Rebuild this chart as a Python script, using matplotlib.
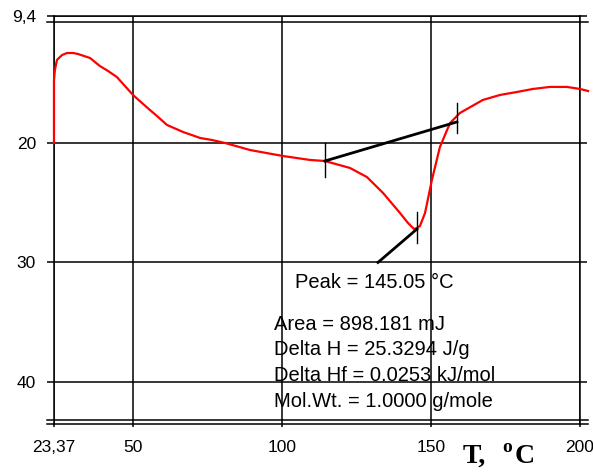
import matplotlib
matplotlib.use("Agg")
from matplotlib import pyplot as plt

# DSC curve
temp = [23.5, 23.5, 23.8, 24.5, 26.2, 27.9, 29.9, 31.5, 35.6, 38.9, 41.6, 44.6,
        47.3, 50.0, 53.0, 55.7, 58.4, 61.4, 66.8, 72.5, 76.5, 80.9, 89.3, 100.3,
        109.4, 114.4, 122.8, 128.5, 133.9, 139.6, 142.3, 144.3, 145.3, 146.3,
        148.0, 150.3, 153.0, 156.4, 159.7, 167.4, 173.2, 178.9, 184.2, 189.9,
        195.6, 200.0, 202.7]
heat = [20.0, 14.73, 13.9, 13.05, 12.64, 12.47, 12.47, 12.55, 12.89, 13.56, 13.97,
        14.48, 15.23, 15.98, 16.65, 17.24, 17.82, 18.49, 19.08, 19.58, 19.75, 20.0,
        20.59, 21.09, 21.42, 21.51, 22.09, 22.85, 24.18, 25.86, 26.7, 27.2, 27.11,
        26.95, 25.86, 23.10, 20.33, 18.33, 17.49, 16.40, 15.98, 15.73, 15.48, 15.31,
        15.31, 15.48, 15.65]

base_t = [114.4, 158.7]
base_h = [21.51, 18.24]
peak_t = [145.3, 132.2]
peak_h = [27.2, 30.0]
marks = [(114.4, 20.0, 22.85), (158.7, 16.65, 19.16), (145.3, 25.77, 28.37)]

xticks = [23.37, 50, 100, 150, 200]
xlabels = ["23,37", "50", "100", "150", "200"]
yticks = [9.4, 20, 30, 40]
ylabels = ["9,4", "20", "30", "40"]

lines_txt = ["Area = 898.181 mJ", "Delta H = 25.3294 J/g",
             "Delta Hf = 0.0253 kJ/mol", "Mol.Wt. = 1.0000 g/mole"]
lines_y = [35.65, 37.74, 39.92, 42.09]

W, H = 593, 472
fig = plt.figure(figsize=(W / 100, H / 100), dpi=100)
ax = fig.add_axes([53.6 / W, 1 - 423.8 / H, (580 - 53.6) / W, (423.8 - 16.3) / H])
ax.set_xlim(23.37, 200)
ax.set_ylim(43.5, 9.4)

lw = 1.1
for s in ax.spines.values():
    s.set_linewidth(lw)
    s.set_color("black")
ax.set_xticks(xticks, xlabels)
ax.set_yticks(yticks, ylabels)
ax.tick_params(axis="y", length=4.7, width=lw, pad=8, labelsize=12.5,
               right=True, direction="out")
ax.tick_params(axis="x", length=2.5, width=lw, pad=9, labelsize=12.5)
for lab in ax.get_xticklabels() + ax.get_yticklabels():
    lab.set_fontfamily("Liberation Sans")
ax.grid(True, color="black", linewidth=lw)
ax.set_axisbelow(True)

# double frame lines
for yy in (9.9, 43.2):
    ax.plot([21.1, 202.7], [yy, yy], color="black", lw=lw, clip_on=False)
ax.plot([200, 202.7], [43.5, 43.5], color="black", lw=lw, clip_on=False)
ax.plot([21.1, 23.37], [43.5, 43.5], color="black", lw=lw, clip_on=False)

ax.plot(temp, heat, color="#ff0000", lw=1.6, clip_on=False, zorder=3)
ax.plot(base_t, base_h, color="black", lw=2, zorder=4)
ax.plot(peak_t, peak_h, color="black", lw=2, zorder=4)
for t, h0, h1 in marks:
    ax.plot([t, t], [h0, h1], color="black", lw=1, zorder=4)

ax.text(104.4, 32.13, "Peak = 145.05 °C", fontsize=14.5, family="Liberation Sans",
        va="baseline", ha="left")
for txt, yy in zip(lines_txt, lines_y):
    ax.text(97.3, yy, txt, fontsize=14.5, family="Liberation Sans",
            va="baseline", ha="left")

fig.text(463 / W, 1 - 463 / H, "T,", fontsize=20, family="Liberation Serif",
         weight="bold", va="baseline", ha="left")
fig.text(502 / W, 1 - 452 / H, "o", fontsize=14, family="Liberation Serif",
         weight="bold", va="baseline", ha="left")
fig.text(515 / W, 1 - 463 / H, "C", fontsize=20, family="Liberation Serif",
         weight="bold", va="baseline", ha="left")

fig.savefig("out.png", dpi=100)
